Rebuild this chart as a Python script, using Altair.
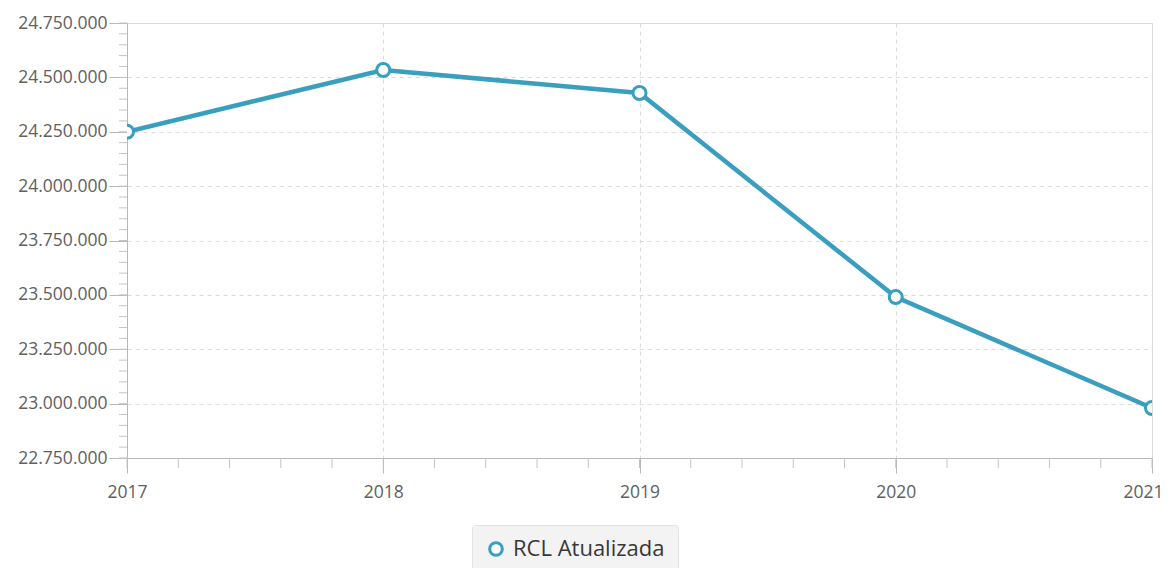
import altair as alt
import pandas as pd

years = [2017, 2018, 2019, 2020, 2021]
values = [24250000, 24534000, 24428000, 23490000, 22980000]
series = ["RCL Atualizada"] * len(years)

y_major = [22750000 + 250000 * i for i in range(9)]
y_minor = [22750000 + 50000 * i for i in range(41)]
x_major = years
x_minor = [2017 + 0.2 * i for i in range(21)]

df = pd.DataFrame({"ano": years, "valor": values, "serie": series})

COLOR = "#3a9fbf"
FONT = "Open Sans"
W, H = 1025, 435

x_scale = alt.Scale(domain=[2017, 2021], nice=False, zero=False)
y_scale = alt.Scale(domain=[22750000, 24750000], nice=False, zero=False)

y_label_expr = "replace(format(datum.value, ',.0f'), /,/g, '.')"

x_axis = alt.Axis(values=x_major, format="d", grid=True, gridDash=[4, 4],
                  gridColor="#d9d9d9", tickSize=15, tickColor="#b8b8b8",
                  domainColor="#b8b8b8", labelColor="#606060", labelFontSize=17.5,
                  labelFont=FONT, labelPadding=10, labelFlush=False, title=None,
                  labelOffset={"condition": {"test": "datum.value == 2021", "value": -9},
                               "value": 0})
y_axis = alt.Axis(values=y_major, labelExpr=y_label_expr, grid=True, gridDash=[4, 4],
                  gridColor="#d9d9d9", tickSize=18, tickColor="#b8b8b8",
                  domainColor="#b8b8b8", labelColor="#606060", labelFontSize=17.5,
                  labelFont=FONT, labelPadding=2, title=None)

color = alt.Color(
    "serie:N", scale=alt.Scale(range=[COLOR]), title=None,
    legend=alt.Legend(orient="none", legendX=345, legendY=502, symbolType="circle",
                      symbolFillColor="white", symbolStrokeWidth=3, symbolSize=160,
                      labelFontSize=22, labelFont=FONT, labelColor="#383838",
                      fillColor="#f3f3f3", strokeColor="#e3e3e3", padding=13,
                      labelOffset=6, cornerRadius=3, labelLimit=400),
)

line = alt.Chart(df).mark_line(strokeWidth=4.5, clip=True).encode(
    x=alt.X("ano:Q", scale=x_scale, axis=x_axis),
    y=alt.Y("valor:Q", scale=y_scale, axis=y_axis),
    color=color,
)
points = alt.Chart(df).mark_point(filled=True, fill="white", size=170, strokeWidth=3,
                                  opacity=1, clip=True).encode(
    x=alt.X("ano:Q", scale=x_scale, axis=x_axis),
    y=alt.Y("valor:Q", scale=y_scale, axis=y_axis),
    stroke=alt.Stroke("serie:N", scale=alt.Scale(range=[COLOR]), legend=None),
)

minor_x = alt.Chart(pd.DataFrame({"ano": x_minor})).mark_rule(
    color="#c4c4c4", strokeWidth=1).encode(
    x=alt.X("ano:Q", scale=x_scale, axis=x_axis),
    y=alt.value(H), y2=alt.value(H + 10),
)
minor_y = alt.Chart(pd.DataFrame({"valor": y_minor})).mark_rule(
    color="#c4c4c4", strokeWidth=1).encode(
    y=alt.Y("valor:Q", scale=y_scale, axis=y_axis),
    x=alt.value(-8), x2=alt.value(0),
)

chart = alt.layer(minor_x, minor_y, line, points).properties(
    width=W, height=H,
    autosize=alt.AutoSizeParams(type="none"),
    padding={"left": 119, "top": 15, "right": 11, "bottom": 110},
).configure_view(stroke=None).configure(background="white")

chart.save("out.html", embed_options={"renderer": "svg", "actions": False})
